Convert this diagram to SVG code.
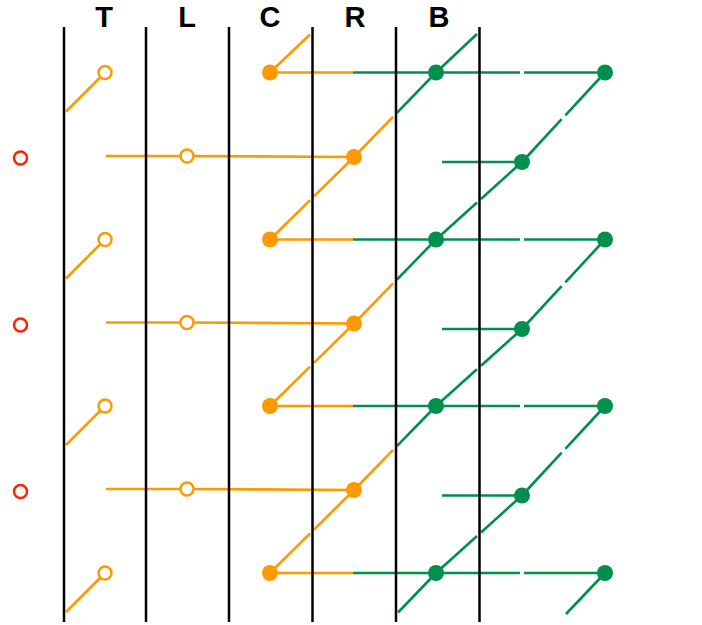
<svg xmlns="http://www.w3.org/2000/svg" width="702" height="625" viewBox="0 0 702 625">
<style>
.o{stroke:#ff9900;stroke-width:2.6;fill:none}
.g{stroke:#008f4c;stroke-width:2.6;fill:none}
.k{stroke:#000;stroke-width:2.5}
.open{fill:#fff;stroke:#ff9900;stroke-width:2.5}
.red{fill:#fff;stroke:#ff2200;stroke-width:2.5}
.fo{fill:#ff9900}
.fg{fill:#008f4c}
.lbl{font-family:"Liberation Sans",Arial,sans-serif;font-weight:bold;font-size:29px;fill:#000;text-anchor:middle}
</style>
<rect width="702" height="625" fill="#fff"/>
<g id="connectors">
<path class="o" d="M66,111.5L105,72.5M66,278.5L105,239.5M66,445L105,406M66,612L105,573"/>
<path class="o" d="M270,72.5L310,34.5"/>
<path class="o" d="M270,72.5H353M270,239.5H353M270,406H353M270,573H353"/>
<path class="g" d="M353,72.5H436M353,239.5H436M353,406H436M353,573H436"/>
<path class="g" d="M436,72.5H520M524,72.5H605M436,239.5H520M524,239.5H605M436,406H520M524,406H605M436,573H520M524,573H605"/>
<path class="o" d="M270,239.5L310.07,200.14M313.93,196.36L354,157M270,406L310.07,366.64M313.93,362.86L354,323.5M270,573L310.07,533.4M313.93,529.6L354,490"/>
<path class="g" d="M436,72.5L396.88,112.81M436,239.5L396.89,279.57M436,406L396.89,446.07M436,573L398,612.5"/>
<path class="o" d="M354,157L393.12,116.69M354,323.5L393.11,283.43M354,490L393.11,449.93"/>
<path class="g" d="M436,72.5L477,34M436,239.5L477,202.56M481,198.94L522,162M436,406L476.99,369.3M481.01,365.7L522,329M436,573L477,536.06M481,532.44L522,495.5"/>
<path class="g" d="M605,72.5L565.34,115.27M561.66,119.23L522,162M605,239.5L565.34,282.27M561.66,286.23L522,329M605,406L565.34,448.77M561.66,452.73L522,495.5M605,573L566,614"/>
<path class="g" d="M442,162H522M442,329H522M442,495.5H522"/>
<path class="o" d="M106,156H187L354,157M106,322.5H187L354,323.5M106,489H187L354,490"/>
</g>
<g id="columns">
<path class="k" d="M64,27V622M146,27V622M229,27V622M312.5,27V622M396,27V622M479.5,27V622"/>
</g>
<g id="labels">
<text class="lbl" x="104" y="26.5">T</text>
<text class="lbl" x="187" y="26.5">L</text>
<text class="lbl" x="270" y="26.5">C</text>
<text class="lbl" x="355" y="26.5">R</text>
<text class="lbl" x="439" y="26.5">B</text>
</g>
<g id="T0"><circle class="open" cx="105" cy="72.5" r="6.5"/></g>
<g id="T1"><circle class="open" cx="105" cy="239.5" r="6.5"/></g>
<g id="T2"><circle class="open" cx="105" cy="406" r="6.5"/></g>
<g id="T3"><circle class="open" cx="105" cy="573" r="6.5"/></g>
<g id="C0"><circle class="fo" cx="270" cy="72.5" r="8"/></g>
<g id="C1"><circle class="fo" cx="270" cy="239.5" r="8"/></g>
<g id="C2"><circle class="fo" cx="270" cy="406" r="8"/></g>
<g id="C3"><circle class="fo" cx="270" cy="573" r="8"/></g>
<g id="G1_0"><circle class="fg" cx="436" cy="72.5" r="8"/></g>
<g id="G1_1"><circle class="fg" cx="436" cy="239.5" r="8"/></g>
<g id="G1_2"><circle class="fg" cx="436" cy="406" r="8"/></g>
<g id="G1_3"><circle class="fg" cx="436" cy="573" r="8"/></g>
<g id="G2_0"><circle class="fg" cx="605" cy="72.5" r="8"/></g>
<g id="G2_1"><circle class="fg" cx="605" cy="239.5" r="8"/></g>
<g id="G2_2"><circle class="fg" cx="605" cy="406" r="8"/></g>
<g id="G2_3"><circle class="fg" cx="605" cy="573" r="8"/></g>
<g id="red0"><circle class="red" cx="20.5" cy="158" r="6.5"/></g>
<g id="red1"><circle class="red" cx="20.5" cy="325" r="6.5"/></g>
<g id="red2"><circle class="red" cx="20.5" cy="491.5" r="6.5"/></g>
<g id="L0"><circle class="open" cx="187" cy="156" r="6.5"/></g>
<g id="L1"><circle class="open" cx="187" cy="322.5" r="6.5"/></g>
<g id="L2"><circle class="open" cx="187" cy="489" r="6.5"/></g>
<g id="R0"><circle class="fo" cx="354" cy="157" r="8"/></g>
<g id="R1"><circle class="fo" cx="354" cy="323.5" r="8"/></g>
<g id="R2"><circle class="fo" cx="354" cy="490" r="8"/></g>
<g id="G3_0"><circle class="fg" cx="522" cy="162" r="8"/></g>
<g id="G3_1"><circle class="fg" cx="522" cy="329" r="8"/></g>
<g id="G3_2"><circle class="fg" cx="522" cy="495.5" r="8"/></g>
</svg>
